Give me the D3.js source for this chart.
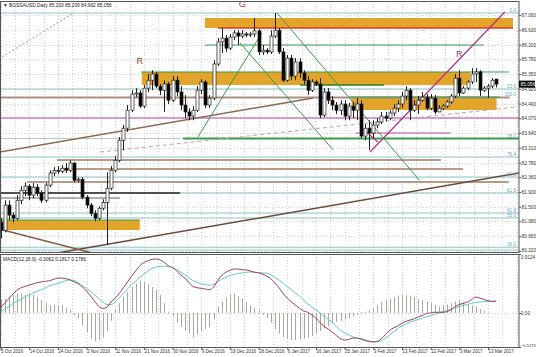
<!DOCTYPE html>
<html><head><meta charset="utf-8">
<script src="https://cdn.jsdelivr.net/npm/d3@7"></script>
<style>body{margin:0;background:#fff}svg{display:block}text{font-family:"Liberation Sans",Arial,sans-serif}</style>
</head><body><svg id="c" width="536" height="357"></svg>
<script>
const title = "\u25BC BGSSAUSD,Daily 85.203 85.209 84.962 85.056";
const macdTitle = "MACD(12,26,9) -0.0062 0.1817 0.1786";
const dateLabels = ["5 Oct 2016","14 Oct 2016","24 Oct 2016","2 Nov 2016","11 Nov 2016","21 Nov 2016","30 Nov 2016","9 Dec 2016","19 Dec 2016","28 Dec 2016","6 Jan 2017","16 Jan 2017","25 Jan 2017","3 Feb 2017","13 Feb 2017","22 Feb 2017","3 Mar 2017","13 Mar 2017"];
const barsPerLabel = 7;
const priceTicks = [87.060,86.630,86.200,85.780,85.350,84.920,84.490,84.070,83.640,83.210,82.780,82.360,81.930,81.500,81.080,80.650,80.220];
const macdTicks = [0.9124, 0.00, -0.5275];
const lastPrice = 85.056;

const open = [81.05,80.82,81.55,81.26,81.17,81.69,81.98,82.10,81.84,82.07,
81.90,81.69,82.13,82.48,82.56,82.53,82.62,82.56,82.77,82.27,
82.30,81.78,81.55,81.31,81.17,81.46,81.63,82.04,82.56,82.85,
83.43,83.78,84.30,84.77,84.80,84.42,84.94,85.17,85.35,85.00,
84.88,85.06,84.59,85.17,84.83,84.45,84.25,84.13,84.30,84.88,
85.12,84.45,84.65,85.64,86.28,86.39,86.10,86.42,86.54,86.45,
86.51,86.48,86.51,86.60,85.99,86.04,85.99,86.45,86.62,85.99,
85.17,85.81,85.29,85.70,85.38,85.17,84.88,85.12,85.06,84.16,
84.83,84.59,84.45,84.30,84.48,84.13,84.42,84.30,84.48,83.55,
83.78,83.64,83.87,83.96,84.13,84.07,84.22,84.36,84.48,84.71,
84.88,84.30,84.45,84.59,84.68,84.36,84.65,84.25,84.36,84.42,
84.54,84.71,85.23,84.80,84.94,85.12,85.35,85.41,84.88,84.94,
85.00,85.203];
const close = [80.82,81.55,81.26,81.17,81.69,81.98,82.10,81.84,82.07,81.90,
81.69,82.13,82.48,82.56,82.53,82.62,82.56,82.77,82.27,82.30,
81.78,81.55,81.31,81.17,81.46,81.63,82.04,82.56,82.85,83.43,
83.78,84.30,84.77,84.80,84.42,84.94,85.17,85.35,85.00,84.88,
85.06,84.59,85.17,84.83,84.45,84.25,84.13,84.30,84.88,85.12,
84.45,84.65,85.64,86.28,86.39,86.10,86.42,86.54,86.45,86.51,
86.48,86.51,86.60,85.99,86.04,85.99,86.45,86.62,85.99,85.17,
85.81,85.29,85.70,85.38,85.17,84.88,85.12,85.06,84.16,84.83,
84.59,84.45,84.30,84.48,84.13,84.42,84.30,84.48,83.55,83.78,
83.64,83.87,83.96,84.13,84.07,84.22,84.36,84.48,84.71,84.88,
84.30,84.45,84.59,84.68,84.36,84.65,84.25,84.36,84.42,84.54,
84.71,85.23,84.80,84.94,85.12,85.35,85.41,84.88,84.94,85.00,
85.17,85.056];
const high = [81.17,81.69,81.69,81.34,81.84,82.10,82.21,82.16,82.19,82.16,
81.98,82.19,82.56,82.65,82.68,82.71,82.77,82.85,82.79,82.36,
82.36,81.84,81.61,81.40,81.52,81.72,82.50,82.68,82.97,83.52,
83.87,84.45,84.88,84.94,84.88,85.03,85.35,85.46,85.41,85.06,
85.17,85.12,85.29,85.29,85.00,84.74,84.36,84.42,85.00,85.20,
85.17,84.74,85.75,86.39,86.68,86.48,86.51,86.62,86.62,86.62,
86.57,86.57,86.97,86.65,86.19,86.10,86.62,87.12,86.68,86.10,
85.90,85.90,85.81,85.81,85.46,85.29,85.20,85.17,85.23,84.94,
84.94,84.71,84.54,84.59,84.59,84.51,84.54,84.65,84.59,83.90,
84.01,84.01,84.07,84.25,84.25,84.30,84.48,84.59,84.83,85.00,
84.94,84.59,84.71,84.83,84.77,84.77,84.74,84.45,84.48,84.59,
84.77,85.35,85.46,85.00,85.17,85.52,85.52,85.46,85.00,85.06,
85.23,85.209];
const low = [80.59,80.76,81.11,81.05,81.11,81.58,81.81,81.69,81.75,81.81,
81.61,81.63,82.07,82.39,82.45,82.48,82.48,82.50,82.21,82.21,
81.72,81.46,81.23,81.08,81.11,81.40,80.39,81.98,82.50,82.79,
83.14,83.67,84.25,84.68,84.36,84.36,84.83,84.88,84.94,84.74,
84.25,84.48,84.54,84.71,84.30,84.07,84.01,84.01,84.25,84.77,
84.36,84.36,84.59,85.58,85.96,85.99,86.04,86.33,86.19,86.39,
86.42,86.42,86.42,85.90,85.90,85.93,85.93,86.39,85.93,85.12,
85.12,85.17,85.17,85.23,85.06,84.74,84.83,85.00,84.07,84.10,
84.48,84.30,84.19,84.16,84.01,84.01,84.07,84.01,83.49,83.43,
83.14,83.49,83.78,83.90,83.98,84.01,84.13,84.25,84.36,84.59,
84.01,84.25,84.19,84.54,84.30,84.30,84.19,84.25,84.30,84.36,
84.48,84.65,84.71,84.77,84.88,85.06,85.12,84.71,84.83,84.65,
84.94,84.962];

const macdMain = [0.08,0.15,0.22,0.29,0.35,0.39,0.41,0.43,0.45,0.47,
0.48,0.49,0.50,0.52,0.54,0.54,0.53,0.51,0.48,0.45,
0.40,0.34,0.26,0.18,0.10,0.07,0.09,0.17,0.23,0.30,
0.39,0.48,0.57,0.65,0.73,0.78,0.81,0.83,0.835,0.82,
0.78,0.73,0.70,0.65,0.59,0.54,0.47,0.41,0.39,0.38,
0.37,0.36,0.40,0.50,0.58,0.63,0.66,0.68,0.68,0.67,
0.665,0.65,0.63,0.62,0.60,0.57,0.53,0.46,0.39,0.30,
0.23,0.17,0.12,0.07,0.03,0.01,-0.03,-0.08,-0.15,-0.21,
-0.25,-0.30,-0.35,-0.40,-0.42,-0.41,-0.39,-0.39,-0.40,-0.42,
-0.44,-0.45,-0.44,-0.40,-0.33,-0.27,-0.23,-0.20,-0.16,-0.13,
-0.11,-0.09,-0.06,-0.04,-0.01,0.00,0.01,0.01,0.01,0.02,
0.05,0.10,0.13,0.15,0.17,0.21,0.245,0.23,0.21,0.19,
0.18,0.1817];
const macdSignal = [0.02,0.06,0.10,0.14,0.18,0.21,0.25,0.28,0.31,0.34,
0.36,0.39,0.42,0.44,0.46,0.48,0.50,0.51,0.50,0.47,
0.42,0.38,0.33,0.28,0.22,0.17,0.13,0.13,0.17,0.23,
0.30,0.37,0.44,0.49,0.55,0.60,0.65,0.69,0.71,0.72,
0.725,0.72,0.70,0.67,0.63,0.59,0.54,0.50,0.47,0.45,
0.44,0.43,0.44,0.48,0.52,0.55,0.58,0.595,0.61,0.62,
0.63,0.635,0.63,0.625,0.62,0.615,0.59,0.55,0.51,0.46,
0.41,0.36,0.31,0.26,0.20,0.14,0.09,0.05,0.00,-0.05,
-0.10,-0.15,-0.21,-0.27,-0.31,-0.34,-0.37,-0.39,-0.41,-0.43,
-0.44,-0.445,-0.445,-0.43,-0.39,-0.34,-0.29,-0.24,-0.20,-0.17,
-0.14,-0.12,-0.10,-0.08,-0.06,-0.04,-0.02,0.00,0.02,0.04,
0.06,0.08,0.10,0.12,0.13,0.15,0.16,0.17,0.175,0.178,
0.179,0.1786];
const macdHist = [0.20,0.22,0.25,0.28,0.30,0.30,0.28,0.30,0.28,0.25,
0.20,0.15,0.12,0.13,0.12,0.12,0.08,0.05,-0.03,-0.08,
-0.20,-0.30,-0.40,-0.44,-0.42,-0.38,-0.28,-0.12,0.05,0.15,
0.25,0.32,0.40,0.45,0.50,0.48,0.44,0.40,0.36,0.28,
0.15,0.02,-0.05,-0.15,-0.22,-0.28,-0.32,-0.38,-0.33,-0.28,
-0.25,-0.22,-0.10,0.10,0.18,0.24,0.28,0.30,0.26,0.22,
0.17,0.12,0.08,0.05,-0.03,-0.08,-0.15,-0.25,-0.32,-0.37,
-0.40,-0.42,-0.42,-0.41,-0.40,-0.38,-0.36,-0.32,-0.28,-0.24,
-0.20,-0.16,-0.14,-0.12,-0.10,-0.08,-0.05,-0.03,0.01,0.02,
0.04,0.08,0.12,0.17,0.20,0.22,0.25,0.27,0.28,0.28,
0.27,0.25,0.22,0.20,0.17,0.15,0.12,0.10,0.12,0.13,
0.15,0.18,0.20,0.16,0.13,0.12,0.10,0.06,0.03,0.01,
0.00,-0.0062];

// horizontal objects: [price, fromBar, toBar, color, width]
const hLevels = [
 [87.118,-1,126.6,"#8cc4c8",1],
 [84.915,-1,126.6,"#8cc4c8",1],
 [84.669,-1,124.3,"#a89080",2],
 [84.075,-1,126.6,"#c040a0",1],
 [83.640,86.7,109.9,"#c040a0",1],
 [83.480,44.5,126.6,"#3a9a4a",2],
 [83.480,-1,44,"#b8c8cc",1],
 [82.944,-1,126.6,"#8cc4c8",1],
 [82.857,13.8,107.5,"#a07860",1.5],
 [82.597,14.5,112.9,"#a07860",1.5],
 [82.365,-1,126.6,"#8cc4c8",1],
 [82.220,6.5,124.1,"#a07860",1.5],
 [81.900,-1,126.6,"#8cc4c8",1],
 [81.900,-1,43.8,"#505050",2],
 [81.756,-1,29.2,"#606060",1],
 [81.320,-1,126.6,"#8cc4c8",1],
 [81.176,-1,126.6,"#8cc4c8",1],
 [80.330,-1,126.6,"#8cc4c8",1],
 [80.249,-1,126.6,"#8cc4c8",1],
 [86.683,53.1,125.1,"#d83a2a",1.5],
 [86.190,49.9,118.0,"#3a9a4a",1],
 [85.408,34.3,124.1,"#3a9a4a",1],
 [85.031,73.1,93.6,"#2e7d32",1.5],
 [84.683,85.2,121.8,"#3a9a4a",1],
 [81.118,-1,34,"#3a9a4a",1]
];
// bands: [priceTop, priceBottom, fromBar, toBar]
const bands = [
 [86.973,86.683,49.9,125.1],
 [85.408,85.031,34.5,114.6],
 [84.683,84.307,85.7,121.1],
 [81.118,80.828,-1,34]
];
// trend lines: [bar1, price1, bar2, price2, color, width, dash]
const trendLines = [
 [0.4,85.843,17.9,87.118,"#999","1","2,2"],
 [-0.2,83.089,76.3,84.654,"#8a6a50","1.5",null],
 [24.3,83.089,125.8,84.393,"#c0a0b0","1","4,3"],
 [9.6,80.075,126.6,82.48,"#6a4a38","1.5",null],
 [0.6,80.829,24.3,80.104,"#8a5a40","1.5",null],
 [48.2,83.524,63.8,86.538,"#3a9a4a","1",null],
 [58.5,86.248,81.2,83.147,"#3a9a4a","1",null],
 [67.5,87.118,102.2,82.278,"#3a9a4a","1",null],
 [90.2,83.089,123.1,87.147,"#b03080","1.2",null],
 [88.2,83.785,92.1,83.379,"#b03080","1.2",null]
];
const fibLabels = [["0.0",87.118],["23.6",84.915],["100.0",84.669],["38.2",83.48],["76.4",82.944],["61.8",82.365],["61.8",81.90],["61.8",81.32],["50.0",81.176],["38.2",80.33]];
const textMarks = [["G",59,87.3,"#b04030"],["R",34,85.65,"#a03a2a"],["R",112,85.83,"#a0307a"]];

const svg = d3.select("#c");
const W = 536, H = 357, RX = 519;
const x = d3.scaleLinear().domain([0, 119]).range([0.5, 488]);
const y = d3.scaleLinear().domain([80.22, 87.06]).range([251, 15]);
const ym = d3.scaleLinear().domain([-0.5275, 0.9124]).range([347, 254]);
const n = close.length;
const axFont = "Liberation Sans, Arial";

svg.append("rect").attr("width",W).attr("height",H).attr("fill","#fff");
svg.append("clipPath").attr("id","mc").append("rect").attr("x",0).attr("y",1).attr("width",RX).attr("height",251);
svg.append("clipPath").attr("id","mm").append("rect").attr("x",0).attr("y",254).attr("width",RX).attr("height",94);

// grid
const gridG = svg.append("g").attr("stroke","#c8c8c8").attr("stroke-dasharray","1,2").attr("stroke-width",0.8);
for (let k = 0; k <= dateLabels.length*2; k++) {
  const gx = Math.round(x(k*barsPerLabel/2))+0.5;
  if (gx > RX) break;
  gridG.append("line").attr("x1",gx).attr("x2",gx).attr("y1",1).attr("y2",252);
  gridG.append("line").attr("x1",gx).attr("x2",gx).attr("y1",254).attr("y2",348);
}
priceTicks.forEach(p => { const gy = Math.round(y(p))+0.5; gridG.append("line").attr("x1",0).attr("x2",RX).attr("y1",gy).attr("y2",gy); });
gridG.append("line").attr("x1",0).attr("x2",RX).attr("y1",Math.round(ym(0))+0.5).attr("y2",Math.round(ym(0))+0.5);

const main = svg.append("g").attr("clip-path","url(#mc)");
main.selectAll(".band").data(bands).join("rect")
  .attr("x",d=>x(d[2])).attr("width",d=>x(d[3])-x(d[2]))
  .attr("y",d=>y(d[0])).attr("height",d=>y(d[1])-y(d[0]))
  .attr("fill","#e0a01e").attr("opacity",0.95);
main.selectAll(".hl").data(hLevels).join("line")
  .attr("x1",d=>x(d[1])).attr("x2",d=>x(d[2]))
  .attr("y1",d=>y(d[0])).attr("y2",d=>y(d[0]))
  .attr("stroke",d=>d[3]).attr("stroke-width",d=>d[4]);
main.selectAll(".tl").data(trendLines).join("line")
  .attr("x1",d=>x(d[0])).attr("y1",d=>y(d[1])).attr("x2",d=>x(d[2])).attr("y2",d=>y(d[3]))
  .attr("stroke",d=>d[4]).attr("stroke-width",d=>d[5]).attr("stroke-dasharray",d=>d[6]);

// candles
const idx = d3.range(n);
const cg = main.append("g");
cg.selectAll(".wick").data(idx).join("line")
  .attr("x1",i=>Math.round(x(i))+0.5).attr("x2",i=>Math.round(x(i))+0.5)
  .attr("y1",i=>y(high[i])).attr("y2",i=>y(low[i]))
  .attr("stroke","#222").attr("stroke-width",1);
cg.selectAll(".body").data(idx).join("rect")
  .attr("x",i=>Math.round(x(i))-1).attr("width",3)
  .attr("y",i=>y(Math.max(open[i],close[i])))
  .attr("height",i=>Math.max(1,Math.abs(y(open[i])-y(close[i]))))
  .attr("fill",i=>close[i]>=open[i]?"#fff":"#000")
  .attr("stroke","#222").attr("stroke-width",0.7);

svg.selectAll(".fib").data(fibLabels).join("text")
  .attr("x",516).attr("y",d=>y(d[1])-1).attr("text-anchor","end")
  .attr("font-size",4.6).attr("fill","#6aa8b0").text(d=>d[0]);
svg.selectAll(".tm").data(textMarks).join("text")
  .attr("x",d=>x(d[1])).attr("y",d=>y(d[2])).attr("text-anchor","middle")
  .attr("font-size",9).attr("fill",d=>d[3]).text(d=>d[0]);

// MACD
const mg = svg.append("g").attr("clip-path","url(#mm)");
mg.selectAll(".hb").data(idx).join("line")
  .attr("x1",i=>Math.round(x(i))+0.5).attr("x2",i=>Math.round(x(i))+0.5)
  .attr("y1",ym(0)).attr("y2",i=>ym(macdHist[i]))
  .attr("stroke","#a8a8a0").attr("stroke-width",1);
const lineGen = arr => d3.line().x(i=>x(i)).y(i=>ym(arr[i])).curve(d3.curveMonotoneX)(idx);
mg.append("path").attr("d",lineGen(macdSignal)).attr("fill","none").attr("stroke","#60c8d0").attr("stroke-width",1);
mg.append("path").attr("d",lineGen(macdMain)).attr("fill","none").attr("stroke","#a04050").attr("stroke-width",1);

// frames
svg.append("rect").attr("x",0.5).attr("y",1.5).attr("width",RX-0.5).attr("height",251).attr("fill","none").attr("stroke","#555").attr("stroke-width",1);
svg.append("rect").attr("x",0.5).attr("y",254.5).attr("width",RX-0.5).attr("height",93).attr("fill","none").attr("stroke","#555").attr("stroke-width",1);

// axes
const pAxis = d3.axisRight(y).tickValues(priceTicks).tickFormat(d3.format(".3f")).tickSize(2);
const pa = svg.append("g").attr("transform",`translate(${RX},0)`).call(pAxis);
pa.select(".domain").remove();
pa.selectAll("text").attr("font-size",4.8).attr("fill","#333").attr("x",2.5).style("font-family",axFont);
pa.selectAll(".tick").filter(d=>d===80.22).select("text").attr("dy","0.1em");
pa.selectAll("line").attr("stroke","#555");
const mAxis = d3.axisRight(ym).tickValues(macdTicks).tickFormat(d=>d===0?"0.00":d3.format(".4f")(d)).tickSize(2);
const ma = svg.append("g").attr("transform",`translate(${RX},0)`).call(mAxis);
ma.select(".domain").remove();
ma.selectAll("text").attr("font-size",4.6).attr("fill","#333").attr("x",2).style("font-family",axFont);
ma.selectAll(".tick").filter(d=>d===0.9124).select("text").attr("dy","1.0em");
ma.selectAll(".tick").filter(d=>d===-0.5275).select("text").attr("dy","-0.2em").attr("x",1.5).attr("font-size",4.3);
ma.selectAll("line").attr("stroke","#555");

// current price box
const cy = y(lastPrice);
svg.append("rect").attr("x",RX).attr("y",cy-3.5).attr("width",16).attr("height",7).attr("fill","#000");
svg.append("text").attr("x",RX+1.5).attr("y",cy+1.8).attr("font-size",4.8).attr("fill","#fff").style("font-family",axFont).text(lastPrice.toFixed(3));

// date axis
const dAxis = d3.axisBottom(x).tickValues(dateLabels.map((d,k)=>k*barsPerLabel)).tickFormat((d,k)=>dateLabels[k]).tickSize(2);
const da = svg.append("g").attr("transform","translate(0,348)").call(dAxis);
da.select(".domain").remove();
da.selectAll("text").attr("font-size",4.5).attr("fill","#333").attr("text-anchor","start").attr("dy","0.5em").attr("y",2.5).style("font-family",axFont);
da.selectAll("line").attr("stroke","#555");

svg.append("text").attr("x",3).attr("y",6.5).attr("font-size",4.8).attr("fill","#222").text(title);
svg.append("text").attr("x",3).attr("y",261).attr("font-size",4.8).attr("fill","#222").text(macdTitle);
</script></body></html>
